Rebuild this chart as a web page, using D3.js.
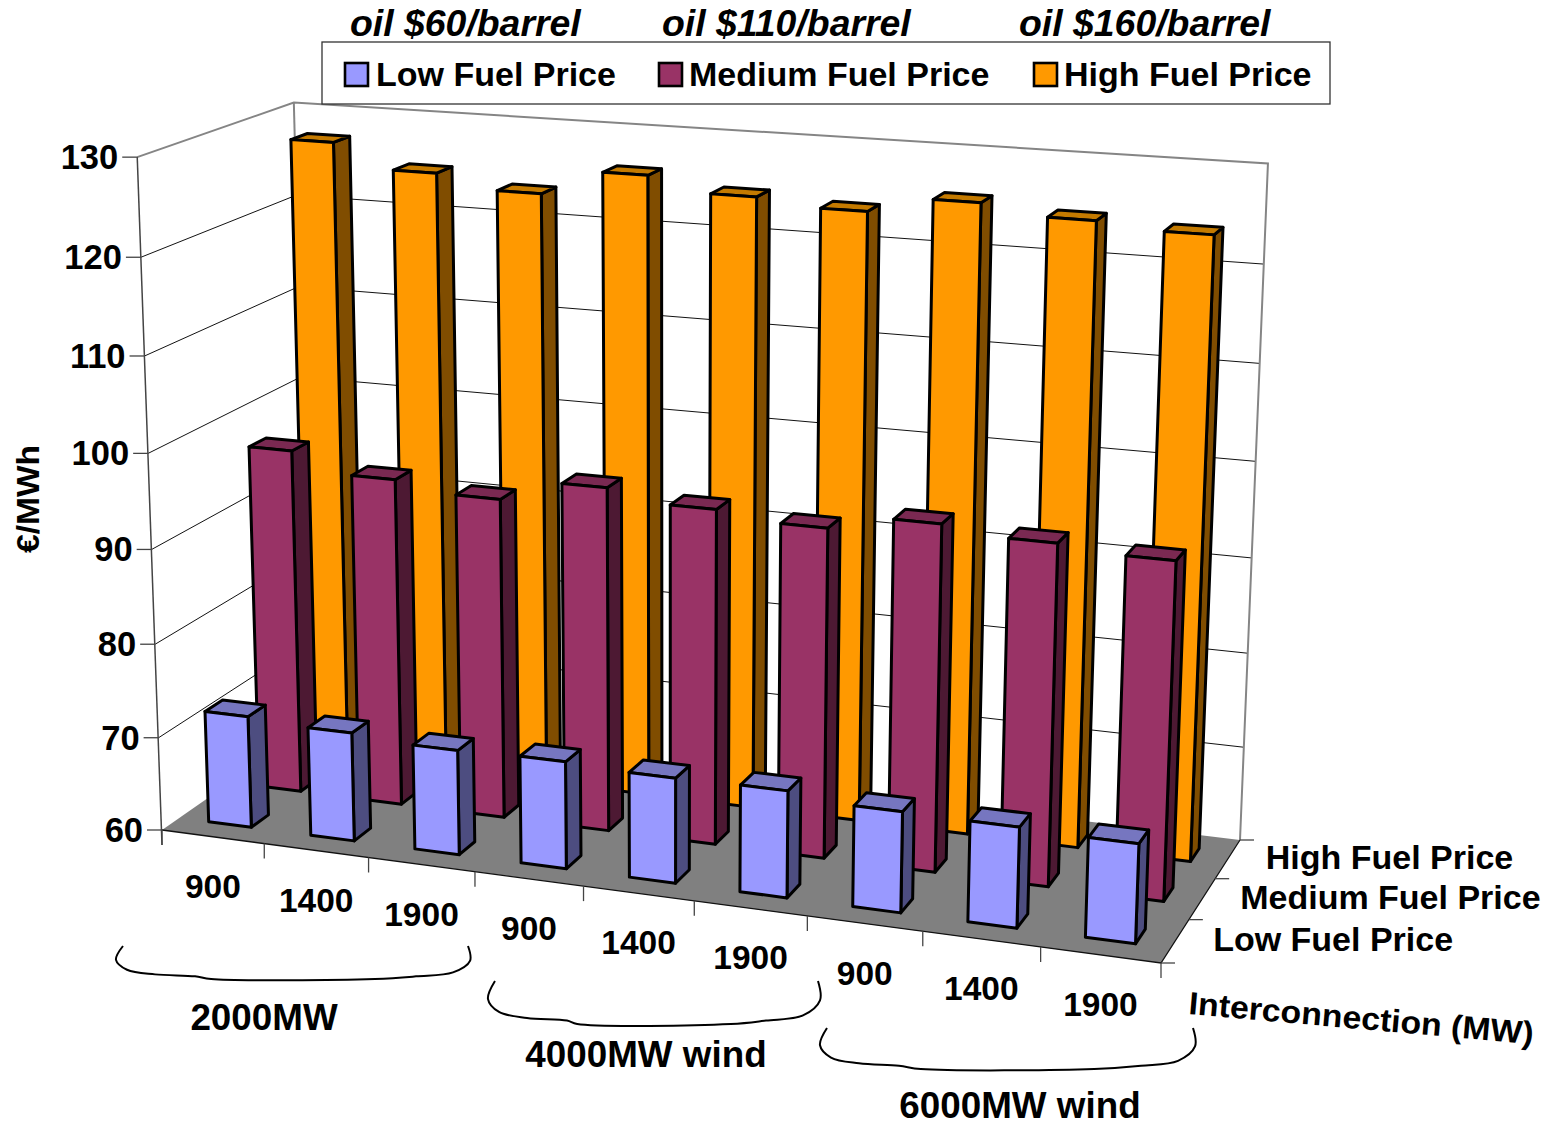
<!DOCTYPE html>
<html>
<head>
<meta charset="utf-8">
<title>Cost per MWh by interconnection, wind and fuel price</title>
<script src="https://d3js.org/d3.v7.min.js"></script>
<style>
  html, body { margin: 0; background: #fff; }
  text { font-family: "Liberation Sans", Arial, sans-serif; font-weight: bold; fill: #000; }
</style>
</head>
<body>
<script>
var categories = ["900", "1400", "1900", "900", "1400", "1900", "900", "1400", "1900"];
var seriesNames = ["Low Fuel Price", "Medium Fuel Price", "High Fuel Price"];
var oilLabels = ["oil $60/barrel", "oil $110/barrel", "oil $160/barrel"];
var yTicks = [60, 70, 80, 90, 100, 110, 120, 130];
var lowFuel = [72.0, 71.6, 71.1, 71.3, 71.0, 71.1, 70.4, 70.3, 70.1];
var mediumFuel = [97.2, 95.2, 94.2, 96.5, 95.35, 94.55, 96.1, 95.3, 94.7];
var highFuel = [127.5, 125.0, 123.6, 126.25, 124.8, 124.1, 125.75, 124.75, 124.15];
var seriesValues = [lowFuel, mediumFuel, highFuel];
var groups = ["2000MW", "4000MW wind", "6000MW wind"];

var faceColors = [
  { front: "#9999ff", side: "#4d4d80", top: "#7676c0" },
  { front: "#993366", side: "#4d1933", top: "#7a2952" },
  { front: "#ff9900", side: "#804d00", top: "#c47a00" }
];

var width = 1557,
    height = 1121;

var svg = d3.select("body")
  .append("svg")
  .attr("width", width)
  .attr("height", height);

// corners of the 3d box as they land on the page
var floorFL = [162, 830], floorFR = [1161, 963], floorBR = [1240, 840], floorBL = [310, 727];
var topFL = [137, 157], topBL = [294, 104], topBR = [1268, 162];

function solve(A, b) {
  var n = b.length, m = A.map(function(r, i) { return r.concat(b[i]); });
  for (var i = 0; i < n; i++) {
    var p = i;
    for (var k = i + 1; k < n; k++) if (Math.abs(m[k][i]) > Math.abs(m[p][i])) p = k;
    var t = m[i]; m[i] = m[p]; m[p] = t;
    for (var k = 0; k < n; k++) {
      if (k == i) continue;
      var f = m[k][i] / m[i][i];
      for (var j = i; j <= n; j++) m[k][j] -= f * m[i][j];
    }
  }
  return m.map(function(r, i) { return r[n] / r[i]; });
}

// floor homography: (x, z) in unit square -> page
var floorPts = [[0, 0, floorFL], [1, 0, floorFR], [1, 1, floorBR], [0, 1, floorBL]];
var hA = [], hB = [];
floorPts.forEach(function(q) {
  var x = q[0], z = q[1], u = q[2][0], w = q[2][1];
  hA.push([x, z, 1, 0, 0, 0, -u * x, -u * z]); hB.push(u);
  hA.push([0, 0, 0, x, z, 1, -w * x, -w * z]); hB.push(w);
});
var H = solve(hA, hB);

function floorHom(x, z) {
  return [H[0] * x + H[1] * z + H[2], H[3] * x + H[4] * z + H[5], H[6] * x + H[7] * z + 1];
}

// vertical column of the projection, least squares on the three known top corners
var vA = [], vB = [];
[[0, 0, topFL], [0, 1, topBL], [1, 1, topBR]].forEach(function(q) {
  var c = floorHom(q[0], q[1]), u = q[2][0], w = q[2][1];
  vA.push([1, 0, -u]); vB.push(u * c[2] - c[0]);
  vA.push([0, 1, -w]); vB.push(w * c[2] - c[1]);
});
var ata = [0, 1, 2].map(function(i) {
  return [0, 1, 2].map(function(j) { return d3.sum(vA, function(r) { return r[i] * r[j]; }); });
});
var atb = [0, 1, 2].map(function(i) { return d3.sum(vA, function(r, k) { return r[i] * vB[k]; }); });
var V = solve(ata, atb);

var xScale = d3.scaleBand().domain(d3.range(categories.length)).range([0, 1]).paddingInner(0.58).paddingOuter(0.29);
var zScale = d3.scaleBand().domain(d3.range(seriesNames.length)).range([0, 1]).paddingInner(0.66).paddingOuter(0.33);
var yScale = d3.scaleLinear().domain([60, 130]).range([0, 1]);

function project(x, z, value) {
  var c = floorHom(x, z), y = yScale(value);
  var w = c[2] + y * V[2];
  return [(c[0] + y * V[0]) / w, (c[1] + y * V[1]) / w];
}

function poly(pts) { return "M" + pts.map(function(p) { return p[0] + "," + p[1]; }).join("L") + "Z"; }

// walls
var wallTop = yTicks[yTicks.length - 1], wallBase = yTicks[0];
svg.append("path").attr("fill", "#fff")
  .attr("d", poly([project(0, 0, wallBase), project(0, 1, wallBase), project(0, 1, wallTop), project(0, 0, wallTop)]));
svg.append("path").attr("fill", "#fff")
  .attr("d", poly([project(0, 1, wallBase), project(1, 1, wallBase), project(1, 1, wallTop), project(0, 1, wallTop)]));

// gridlines
yTicks.slice(1, -1).forEach(function(v) {
  svg.append("polyline")
    .attr("points", [project(0, 0, v), project(0, 1, v), project(1, 1, v)].join(" "))
    .attr("fill", "none").attr("stroke", "#111").attr("stroke-width", 1);
});

// frame
svg.append("polyline")
  .attr("points", [project(0, 0, wallTop), project(0, 1, wallTop), project(1, 1, wallTop), project(1, 1, wallBase)].join(" "))
  .attr("fill", "none").attr("stroke", "#858585").attr("stroke-width", 2);
svg.append("line")
  .attr("x1", project(0, 1, wallTop)[0]).attr("y1", project(0, 1, wallTop)[1])
  .attr("x2", project(0, 1, wallBase)[0]).attr("y2", project(0, 1, wallBase)[1])
  .attr("stroke", "#858585").attr("stroke-width", 2);
svg.append("line")
  .attr("x1", project(0, 0, wallTop)[0]).attr("y1", project(0, 0, wallTop)[1])
  .attr("x2", project(0, 0, wallBase)[0]).attr("y2", project(0, 0, wallBase)[1] + 15)
  .attr("stroke", "#444").attr("stroke-width", 1.5);

// floor
svg.append("path").attr("fill", "#808080")
  .attr("d", poly([project(0, 0, wallBase), project(1, 0, wallBase), project(1, 1, wallBase), project(0, 1, wallBase)]));
svg.append("polyline")
  .attr("points", [project(0, 0, wallBase), project(1, 0, wallBase), project(1, 1, wallBase)].join(" "))
  .attr("fill", "none").attr("stroke", "#111").attr("stroke-width", 1.3);

// y axis
yTicks.forEach(function(v) {
  var p = project(0, 0, v);
  svg.append("line").attr("x1", p[0] - 15).attr("x2", p[0]).attr("y1", p[1]).attr("y2", p[1])
    .attr("stroke", "#444").attr("stroke-width", 1.3);
  svg.append("text").attr("x", p[0] - 19).attr("y", p[1] + 12)
    .attr("text-anchor", "end").attr("font-size", 34.5).text(v);
});

// x axis
d3.range(categories.length + 1).forEach(function(i) {
  var p = project(i * xScale.step(), 0, wallBase);
  svg.append("line").attr("x1", p[0]).attr("x2", p[0]).attr("y1", p[1]).attr("y2", p[1] + 15)
    .attr("stroke", "#444").attr("stroke-width", 1.3);
});
categories.forEach(function(c, i) {
  var p = project(xScale(i) + xScale.bandwidth() / 2, 0, wallBase);
  svg.append("text").attr("x", p[0]).attr("y", p[1] + 61)
    .attr("text-anchor", "middle").attr("font-size", 33.5).text(c);
});

// depth axis
d3.range(seriesNames.length + 1).forEach(function(i) {
  var p = project(1, i * zScale.step(), wallBase);
  svg.append("line").attr("x1", p[0]).attr("x2", p[0] + 14).attr("y1", p[1]).attr("y2", p[1])
    .attr("stroke", "#444").attr("stroke-width", 1.3);
});
seriesNames.forEach(function(s, i) {
  var p = project(1, zScale(i) + zScale.bandwidth() / 2, wallBase);
  svg.append("text").attr("x", p[0] + 38).attr("y", p[1] + 10)
    .attr("font-size", 34).text(s);
});

// bars, back series first
d3.range(seriesNames.length).reverse().forEach(function(s) {
  var z0 = zScale(s), z1 = z0 + zScale.bandwidth();
  var bars = svg.append("g").selectAll("g")
    .data(seriesValues[s])
    .join("g")
    .attr("stroke", "#000")
    .attr("stroke-width", 3)
    .attr("stroke-linejoin", "round");
  bars.each(function(v, i) {
    var x0 = xScale(i), x1 = x0 + xScale.bandwidth();
    var g = d3.select(this);
    g.append("path").attr("fill", faceColors[s].side)
      .attr("d", poly([project(x1, z0, wallBase), project(x1, z1, wallBase), project(x1, z1, v), project(x1, z0, v)]));
    g.append("path").attr("fill", faceColors[s].top)
      .attr("d", poly([project(x0, z0, v), project(x1, z0, v), project(x1, z1, v), project(x0, z1, v)]));
    g.append("path").attr("fill", faceColors[s].front)
      .attr("d", poly([project(x0, z0, wallBase), project(x1, z0, wallBase), project(x1, z0, v), project(x0, z0, v)]));
  });
});

// legend
svg.append("rect").attr("x", 322).attr("y", 42).attr("width", 1008).attr("height", 62)
  .attr("fill", "#fff").attr("stroke", "#333").attr("stroke-width", 1.3);
var legendX = [345, 659, 1034], legendTextX = [376, 689, 1064];
seriesNames.forEach(function(s, i) {
  svg.append("rect").attr("x", legendX[i]).attr("y", 63).attr("width", 23).attr("height", 23)
    .attr("fill", faceColors[i].front).attr("stroke", "#000").attr("stroke-width", 2.6);
  svg.append("text").attr("x", legendTextX[i]).attr("y", 86).attr("font-size", 34).text(s);
});

// oil prices above the legend
var oilX = [350, 662, 1019];
oilLabels.forEach(function(s, i) {
  svg.append("text").attr("x", oilX[i]).attr("y", 36).attr("font-size", 37.4)
    .attr("font-style", "italic").text(s);
});

// axis titles
svg.append("text").attr("transform", "translate(39,553) rotate(-90)")
  .attr("font-size", 32).attr("textLength", 108).attr("lengthAdjust", "spacingAndGlyphs").text("€/MWh");
svg.append("text").attr("transform", "translate(1188,1014) rotate(5)")
  .attr("font-size", 32).attr("textLength", 346).attr("lengthAdjust", "spacingAndGlyphs").text("Interconnection (MW)");

// braces under the three wind groups
var braceLine = d3.line().curve(d3.curveCatmullRom.alpha(0.5));
function brace(x0, x1, y0, y1) {
  var w = x1 - x0, h = y1 - y0;
  return braceLine([
    [x0 + 8, y0], [x0 + 1, y0 + h * 0.42], [x0 + 12, y0 + h * 0.72], [x0 + 40, y0 + h * 0.86], [x0 + 80, y0 + h * 0.92],
    [x0 + w * 0.27, y1], [x1 - w * 0.27, y1], [x1 - 55, y0 + h * 0.92], [x1 - 18, y0 + h * 0.8],
    [x1 - 1, y0 + h * 0.45], [x1 - 3, y0]
  ]);
}
var braceBoxes = [[115, 471, 946, 979], [487, 821, 981, 1024], [819, 1196, 1028, 1069]];
braceBoxes.forEach(function(b) {
  svg.append("path").attr("d", brace(b[0], b[1], b[2], b[3]))
    .attr("fill", "none").attr("stroke", "#000").attr("stroke-width", 2);
});
var groupX = [264, 646, 1020], groupY = [1030, 1067, 1118];
groups.forEach(function(g, i) {
  svg.append("text").attr("x", groupX[i]).attr("y", groupY[i])
    .attr("text-anchor", "middle").attr("font-size", 36.8).text(g);
});
</script>
</body>
</html>
